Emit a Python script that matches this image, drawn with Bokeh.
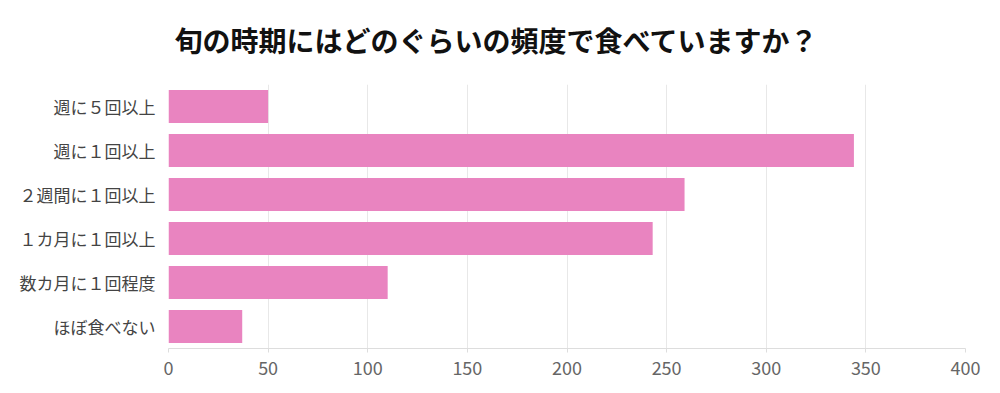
from bokeh.plotting import figure
from bokeh.models import FactorRange, Range1d, Div, FixedTicker
from bokeh.layouts import column
from bokeh.embed import file_html
from bokeh.resources import INLINE

title_text = "旬の時期にはどのぐらいの頻度で食べていますか？"
categories = ["週に５回以上", "週に１回以上", "２週間に１回以上", "１カ月に１回以上", "数カ月に１回程度", "ほぼ食べない"]
counts = [50, 344, 259, 243, 110, 37]
x_ticks = [0, 50, 100, 150, 200, 250, 300, 350, 400]

FONT = "Noto Sans CJK JP"

title = Div(
    text=title_text,
    width=992, height=70, margin=(0, 0, 0, 0),
    styles={"text-align": "center", "font-size": "28px", "font-weight": "bold",
            "font-family": FONT, "color": "#111111", "line-height": "62px",
            "padding-top": "9px", "width": "992px"},
)

p = figure(
    y_range=FactorRange(factors=categories[::-1]),
    x_range=Range1d(0, 400),
    width=992, height=315,
    output_backend="svg", toolbar_location=None,
    min_border_left=168, min_border_right=27, min_border_top=14, min_border_bottom=37,
)
p.hbar(y=categories, right=counts, height=0.75, fill_color="#e984c0", line_color=None)

p.outline_line_color = None
p.ygrid.grid_line_color = None
p.xgrid.grid_line_color = "#e8e8e8"
p.xaxis.ticker = FixedTicker(ticks=x_ticks)
p.xaxis.minor_tick_line_color = None
p.xaxis.axis_line_color = "#dddddd"
p.xaxis.major_tick_line_color = "#dddddd"
p.xaxis.major_tick_in = 0
p.xaxis.major_tick_out = 4
p.xaxis.major_label_standoff = 8
p.xaxis.major_label_text_font = FONT
p.xaxis.major_label_text_font_size = "18px"
p.xaxis.major_label_text_color = "#666666"

p.yaxis.axis_line_color = None
p.yaxis.major_tick_line_color = None
p.yaxis.minor_tick_line_color = None
p.yaxis.major_tick_out = 0
p.yaxis.major_label_standoff = 13
p.yaxis.major_label_text_font = FONT
p.yaxis.major_label_text_font_size = "17px"
p.yaxis.major_label_text_color = "#444444"

layout = column(title, p, spacing=0)
open("out.html", "w").write(file_html(layout, INLINE))
